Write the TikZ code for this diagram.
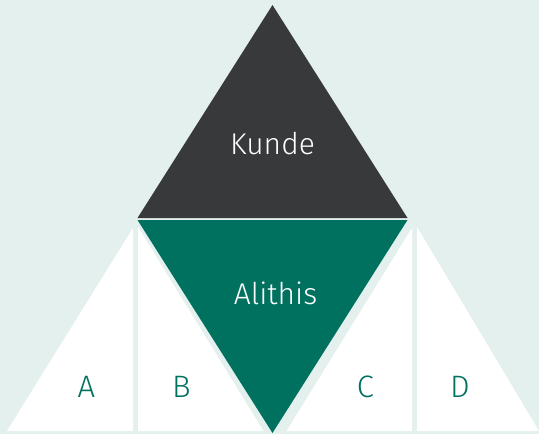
\documentclass[tikz,border=0pt]{standalone}
\usepackage{fontspec}
\setmainfont{Fira Sans Light}

\definecolor{bgmint}{HTML}{E3F0EE}
\definecolor{darkgrey}{HTML}{38393B}
\definecolor{alithisgreen}{HTML}{00705F}

\tikzset{
  bigtext/.style={font=\fontsize{30}{30}\selectfont, anchor=base},
  letter/.style={font=\fontsize{31}{31}\selectfont, anchor=base, text=alithisgreen}
}

\begin{document}
\begin{tikzpicture}[x=1pt,y=-1pt]

    % Background
    \fill[bgmint] (0,0) rectangle (539,434);
    \useasboundingbox (0,0) rectangle (539,434);

    % Define points
    \coordinate (top) at (272.5,5); % Apex of the top triangle
    \coordinate (kl) at (137.5,218); % Left corner of the top triangle
    \coordinate (kr) at (407.5,218); % Right corner of the top triangle
    \coordinate (al) at (137.5,220); % Left corner of the inverted triangle
    \coordinate (ar) at (407.5,220); % Right corner of the inverted triangle
    \coordinate (bot) at (272.5,433); % Lower apex of the inverted triangle

    % Top triangle
    \fill[darkgrey] (top) -- (kl) -- (kr) -- cycle;

    % Inverted triangle
    \fill[alithisgreen] (al) -- (ar) -- (bot) -- cycle;

    % White triangles on the left
    \fill[white] (7,431) -- (133,431) -- (133,228) -- cycle; % A
    \fill[white] (138,227) -- (138,431) -- (263.5,431) -- cycle; % B

    % White triangles on the right
    \fill[white] (286.5,431) -- (412,228) -- (412,431) -- cycle; % C
    \fill[white] (417,227) -- (417,431) -- (539,431) -- cycle; % D

    % Draw labels
    \node[bigtext, white] (kunde) at (272.5,154) {Kunde};
    \node[bigtext, white] (alithis) at (275.5,304) {Alithis};
    \node[letter] (a) at (86.5,397) {A};
    \node[letter] (b) at (181.5,397) {B};
    \node[letter] (c) at (365.5,397) {C};
    \node[letter] (d) at (460,397) {D};

\end{tikzpicture}
\end{document}
